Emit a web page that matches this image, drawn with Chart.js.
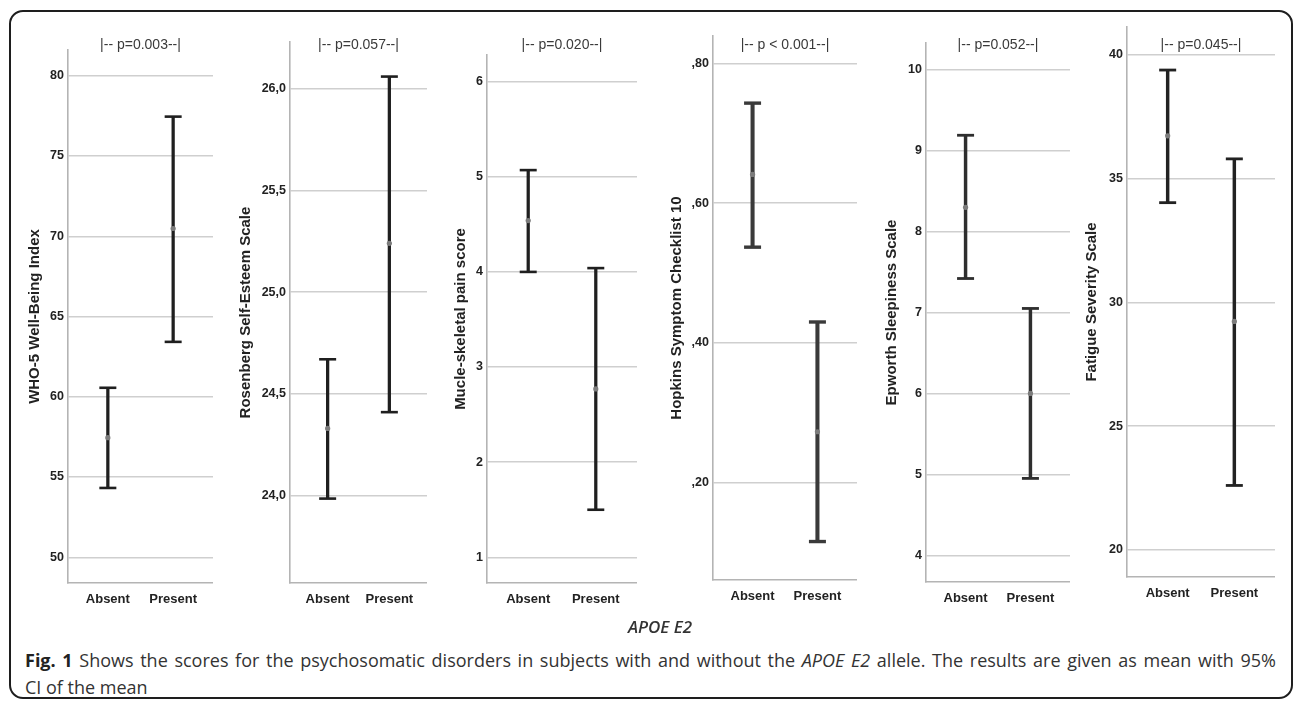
<!DOCTYPE html>
<html><head><meta charset="utf-8">
<script src="https://cdn.jsdelivr.net/npm/chart.js@4.4.0/dist/chart.umd.min.js"></script>
<style>
html,body{margin:0;padding:0;background:#fff;width:1298px;height:704px;overflow:hidden;position:relative;font-family:"Liberation Sans",Arial,sans-serif;}
#frame{position:absolute;left:9px;top:10px;width:1280px;height:685px;border:2px solid #1e1e1e;border-radius:14px;}
canvas.cv{position:absolute;top:0;}
#xlab{position:absolute;left:560px;width:200px;top:615px;line-height:24px;text-align:center;font:italic 600 17px "Open Sans";color:#333;}
.cap{position:absolute;left:25px;width:1251px;font:18px/24px "Open Sans";color:#333;white-space:nowrap;}
.cap b{font-weight:700;color:#222;}
#cap1{top:648px;text-align:justify;text-align-last:justify;}
#cap2{top:675px;}
</style></head>
<body>
<div id="frame"></div>
<div id="charts"></div>
<div id="xlab">APOE E2</div>
<div class="cap" id="cap1"><b>Fig. 1</b> Shows the scores for the psychosomatic disorders in subjects with and without the <i>APOE E2</i> allele. The results are given as mean with 95%</div>
<div class="cap" id="cap2">CI of the mean</div>
<script>
// ---- data ----
const categories = ['Absent', 'Present'];
const axisTitles = ['WHO-5 Well-Being Index', 'Rosenberg Self-Esteem Scale', 'Mucle-skeletal pain score',
                    'Hopkins Symptom Checklist 10', 'Epworth Sleepiness Scale', 'Fatigue Severity Scale'];
const pLabels = ['|-- p=0.003--|', '|-- p=0.057--|', '|-- p=0.020--|', '|-- p < 0.001--|', '|-- p=0.052--|', '|-- p=0.045--|'];
const means = [[57.45, 70.48], [24.33, 25.24], [4.54, 2.77], [0.641, 0.273], [8.30, 6.00], [36.73, 29.23]];
const lower = [[54.32, 63.42], [23.985, 24.41], [4.00, 1.50], [0.537, 0.116], [7.42, 4.95], [34.03, 22.6]];
const upper = [[60.56, 77.45], [24.67, 26.06], [5.07, 4.04], [0.743, 0.430], [9.19, 7.05], [39.39, 35.8]];
const tickValues = [[50, 55, 60, 65, 70, 75, 80], [24.0, 24.5, 25.0, 25.5, 26.0], [1, 2, 3, 4, 5, 6],
                    [0.2, 0.4, 0.6, 0.8], [4, 5, 6, 7, 8, 9, 10], [20, 25, 30, 35, 40]];
const tickLabels = [['50', '55', '60', '65', '70', '75', '80'], ['24,0', '24,5', '25,0', '25,5', '26,0'],
                    ['1', '2', '3', '4', '5', '6'], [',20', ',40', ',60', ',80'],
                    ['4', '5', '6', '7', '8', '9', '10'], ['20', '25', '30', '35', '40']];
const axisMin = [48.4, 23.57, 0.73, 0.061, 3.67, 18.9];
const axisMax = [81.6, 26.23, 6.28, 0.839, 10.33, 41.13];

// ---- layout / style ----
const plotLeft = [68, 290, 487, 713, 926, 1127];
const plotRight = [213, 427, 637, 857, 1070, 1275];
const plotTop = [50, 42, 55, 36, 43, 27];
const plotBottom = [583, 583, 583, 580, 582, 577];
const titleX = [35, 246, 461, 677, 892, 1092];
const lineWidths = [2.6, 2.6, 2.6, 3.4, 2.8, 2.8];
const lineColors = ['#1f1f1f', '#1f1f1f', '#1f1f1f', '#3a3a3a', '#2e2e2e', '#222'];
const CH = 640, XH = 40;
const FAM = '"Liberation Sans", Arial, sans-serif';
Chart.defaults.font.family = FAM;
Chart.defaults.color = '#222';

const pPlugin = {
  id: 'plabel',
  afterDraw(chart, args, opts) {
    const {ctx, chartArea} = chart;
    ctx.save();
    ctx.font = '14px ' + FAM;
    ctx.fillStyle = '#3a3a3a';
    ctx.textAlign = 'center';
    ctx.textBaseline = 'middle';
    ctx.fillText(opts.text, (chartArea.left + chartArea.right) / 2, 45);
    ctx.restore();
  }
};

const holder = document.getElementById('charts');
for (let i = 0; i < 6; i++) {
  const left = titleX[i] - 10;
  const yW = plotLeft[i] - left;
  const w = plotRight[i] - left;
  const cv = document.createElement('canvas');
  cv.className = 'cv';
  cv.width = w; cv.height = CH;
  cv.style.left = left + 'px';
  cv.style.width = w + 'px'; cv.style.height = CH + 'px';
  holder.appendChild(cv);
  const lc = lineColors[i], lw = lineWidths[i];
  new Chart(cv.getContext('2d'), {
    type: 'bar',
    data: {
      datasets: [
        {type: 'bar', data: categories.map((c, j) => ({x: j, y: [lower[i][j], upper[i][j]]})),
         backgroundColor: lc, borderWidth: 0, barThickness: lw, order: 3},
        {type: 'scatter', data: categories.map((c, j) => ({x: j, y: upper[i][j]})),
         pointStyle: 'line', pointRadius: 8.5, borderColor: lc, borderWidth: lw, order: 2},
        {type: 'scatter', data: categories.map((c, j) => ({x: j, y: lower[i][j]})),
         pointStyle: 'line', pointRadius: 8.5, borderColor: lc, borderWidth: lw, order: 2},
        {type: 'scatter', data: categories.map((c, j) => ({x: j, y: means[i][j]})),
         pointStyle: 'circle', pointRadius: 2.6, backgroundColor: '#7c7c7c', borderWidth: 0, order: 0}
      ]
    },
    options: {
      responsive: false, animation: false, events: [],
      layout: {autoPadding: false, padding: {left: 0, right: 0, top: plotTop[i], bottom: CH - plotBottom[i] - XH}},
      plugins: {legend: {display: false}, tooltip: {enabled: false}, plabel: {text: pLabels[i]}},
      scales: {
        x: {
          type: 'linear', min: -0.61, max: 1.61, offset: false, bounds: 'ticks',
          afterBuildTicks: s => { s.ticks = categories.map((c, j) => ({value: j})); },
          afterFit: s => { s.height = XH; s.paddingLeft = 0; s.paddingRight = 0; },
          grid: {display: false, drawTicks: false, offset: false},
          border: {display: true, color: '#b4b4b4', width: 1.6},
          ticks: {callback: v => categories[v], padding: 9, color: '#222', autoSkip: false, maxRotation: 0,
                  font: {size: 13, weight: 'bold'}}
        },
        y: {
          type: 'linear', min: axisMin[i], max: axisMax[i], beginAtZero: false,
          afterBuildTicks: s => { s.ticks = tickValues[i].map(v => ({value: v})); },
          afterFit: s => { s.width = yW; s.paddingTop = 0; s.paddingBottom = 0; },
          grid: {color: '#cfcfcf', lineWidth: 1.4, drawTicks: false},
          border: {color: '#b4b4b4', width: 1.6},
          ticks: {callback: (v, idx) => tickLabels[i][idx], padding: 4, color: '#222', autoSkip: false,
                  font: {size: 12.5, weight: 'bold'}},
          title: {display: true, text: axisTitles[i], color: '#222', padding: {top: 1, bottom: 0},
                  font: {size: 15, weight: 'bold', lineHeight: 1.2}}
        }
      }
    },
    plugins: [pPlugin]
  });
}

function fitCaption() {
  const c1 = document.getElementById('cap1');
  const probe = c1.cloneNode(true);
  probe.style.cssText = 'position:absolute;left:-5000px;top:0;width:auto;display:inline-block;text-align:left;text-align-last:auto;';
  document.body.appendChild(probe);
  const nat = probe.getBoundingClientRect().width;
  const chars = probe.textContent.length;
  document.body.removeChild(probe);
  const target = 1251 - 20;
  if (nat > target) c1.style.letterSpacing = ((target - nat) / chars) + 'px';
}
fitCaption();
if (document.fonts && document.fonts.ready) document.fonts.ready.then(fitCaption);
</script>
</body></html>
